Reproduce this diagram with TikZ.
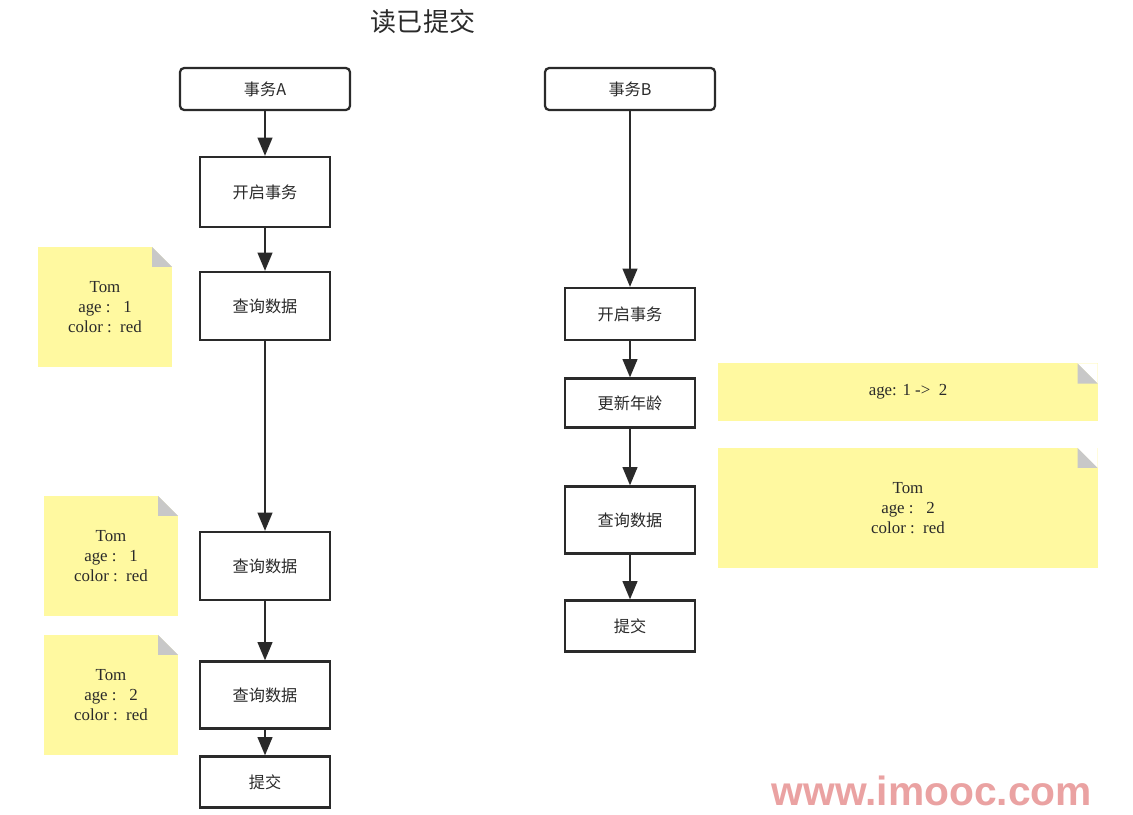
\documentclass[tikz,border=0pt]{standalone}
\usepackage{fontspec}
\setmainfont{Liberation Serif}
\newfontfamily\cjk{Noto Sans CJK SC}
\newfontfamily\wmfont{Liberation Sans}
\usetikzlibrary{arrows.meta}
\definecolor{notizgelb}{RGB}{255,249,160}
\definecolor{knick}{RGB}{200,200,200}
\definecolor{linie}{RGB}{42,42,42}
\definecolor{wasser}{RGB}{234,162,162}
\tikzset{
  schritt/.style={draw=linie, line width=1.6pt, fill=white, text=linie, inner sep=0pt,
    minimum width=3.25cm, font=\cjk\fontsize{11.5}{14}\selectfont},
  kopf/.style={schritt, rounded corners=3pt, minimum width=4.25cm, minimum height=1.05cm},
  notiz/.style={fill=notizgelb, text=linie, align=center, inner sep=0pt,
    font=\fontsize{12}{14.2}\selectfont,
    path picture={
      \fill[white] ([xshift=-0.5cm]path picture bounding box.north east)
        -- (path picture bounding box.north east)
        -- ([yshift=-0.5cm]path picture bounding box.north east) -- cycle;
      \fill[knick] ([xshift=-0.5cm]path picture bounding box.north east)
        -- ([xshift=-0.5cm,yshift=-0.5cm]path picture bounding box.north east)
        -- ([yshift=-0.5cm]path picture bounding box.north east) -- cycle;
    }},
  pfeil/.style={draw=linie, line width=1.4pt, -{Triangle[width=10.5pt,length=13pt]}}
}

\begin{document}
\begin{tikzpicture}[x=0.025cm, y=-0.025cm] % 1 Einheit = 1 Pixel, y nach unten
\useasboundingbox (0,0) rectangle (1133,815);

%UEBERSCHRIFT
\node[text=linie, font=\cjk\fontsize{18.5}{22}\selectfont] (titel) at (423,22) {读已提交};

%SPALTE A (links)
\node[kopf] (kopfA) at (265,89) {事务A};
\node[schritt, minimum height=1.75cm] (startA) at (265,192) {开启事务};
\node[schritt, minimum height=1.7cm] (lesenA1) at (265,306) {查询数据};
\node[schritt, minimum height=1.7cm] (lesenA2) at (265,566) {查询数据};
\node[schritt, minimum height=1.675cm] (lesenA3) at (265,695) {查询数据};
\node[schritt, minimum height=1.275cm] (commitA) at (265,782) {提交};

\draw[pfeil] (kopfA) -- (startA);
\draw[pfeil] (startA) -- (lesenA1);
\draw[pfeil] (lesenA1) -- (lesenA2);
\draw[pfeil] (lesenA2) -- (lesenA3);
\draw[pfeil] (lesenA3) -- (commitA);

%NOTIZEN A (links)
\node[notiz, minimum width=3.35cm, minimum height=3cm] (notizA1) at (105,307) {Tom\\age :\ \ \ 1\\color :\ \ red};
\node[notiz, minimum width=3.35cm, minimum height=3cm] (notizA2) at (111,556) {Tom\\age :\ \ \ 1\\color :\ \ red};
\node[notiz, minimum width=3.35cm, minimum height=3cm] (notizA3) at (111,695) {Tom\\age :\ \ \ 2\\color :\ \ red};

%SPALTE B (rechts)
\node[kopf] (kopfB) at (630,89) {事务B};
\node[schritt, minimum height=1.3cm] (startB) at (630,314) {开启事务};
\node[schritt, minimum height=1.225cm] (aendernB) at (630,403) {更新年龄};
\node[schritt, minimum height=1.675cm] (lesenB) at (630,520) {查询数据};
\node[schritt, minimum height=1.275cm] (commitB) at (630,626) {提交};

\draw[pfeil] (kopfB) -- (startB);
\draw[pfeil] (startB) -- (aendernB);
\draw[pfeil] (aendernB) -- (lesenB);
\draw[pfeil] (lesenB) -- (commitB);

%NOTIZEN B (rechts)
\node[notiz, minimum width=9.475cm, minimum height=1.425cm] (notizB1) at (908,392) {age: 1 ->\ \ 2};
\node[notiz, minimum width=9.475cm, minimum height=3cm] (notizB2) at (908,508) {Tom\\age :\ \ \ 2\\color :\ \ red};

%WASSERZEICHEN
\node[text=wasser, inner sep=0pt, font=\wmfont\bfseries\fontsize{29}{32}\selectfont] (marke) at (932,791) {www.imooc.com};

\end{tikzpicture}
\end{document}
